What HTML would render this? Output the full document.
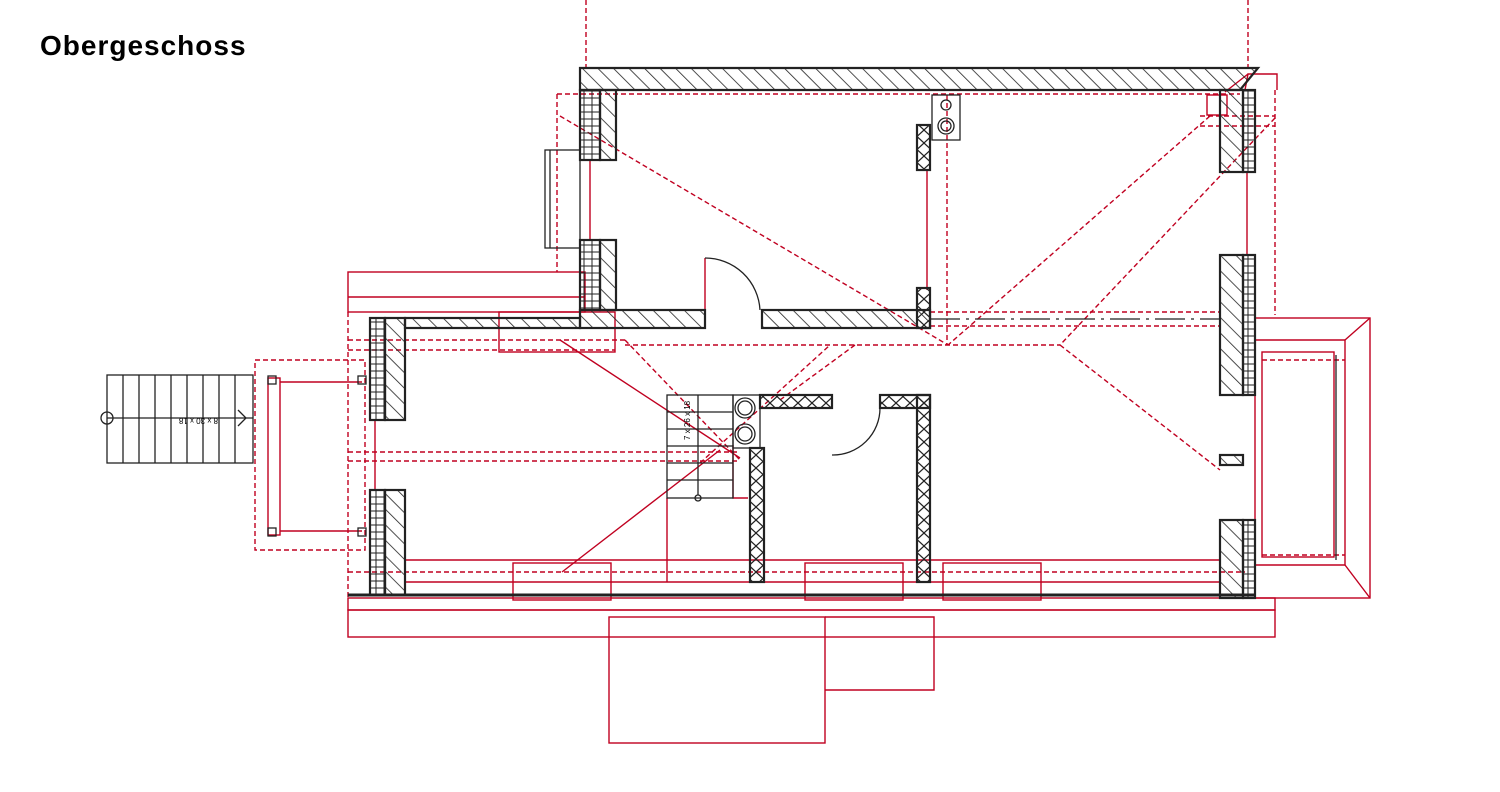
<!DOCTYPE html>
<html><head><meta charset="utf-8"><style>
html,body{margin:0;padding:0;background:#fff;width:1500px;height:792px;overflow:hidden}
svg{position:absolute;left:0;top:0}
.t{position:absolute;left:40px;top:30px;font-family:"Liberation Sans",sans-serif;font-size:28px;font-weight:bold;letter-spacing:1px;color:#000}
</style></head><body>
<div class="t">Obergeschoss</div>
<svg width="1500" height="792" viewBox="0 0 1500 792">
<defs>
<pattern id="h" width="11" height="11" patternUnits="userSpaceOnUse" patternTransform="rotate(-45)">
<line x1="0" y1="0" x2="0" y2="11" stroke="#222" stroke-width="1.6"/></pattern>
<pattern id="b" width="8" height="7" patternUnits="userSpaceOnUse">
<rect width="8" height="7" fill="none" stroke="#222" stroke-width="1"/></pattern>
<pattern id="x" width="14" height="13" patternUnits="userSpaceOnUse">
<path d="M0,0 L14,13 M14,0 L0,13" stroke="#222" stroke-width="1.2"/></pattern>
</defs>
<g fill="none" stroke="#c00020" stroke-width="1.4">
<rect x="348" y="272" width="237" height="40"/>
<line x1="348" y1="297" x2="585" y2="297"/>
<rect x="499" y="312" width="116" height="40"/>
<rect x="348" y="598" width="927" height="12"/>
<rect x="348" y="610" width="927" height="27"/>
<rect x="609" y="617" width="216" height="126"/>
<polyline points="825,617 934,617 934,690 825,690"/>
<rect x="513" y="563" width="98" height="37"/>
<rect x="805" y="563" width="98" height="37"/>
<rect x="943" y="563" width="98" height="37"/>
<line x1="405" y1="560" x2="1220" y2="560"/>
<line x1="405" y1="582" x2="1220" y2="582"/>
<line x1="667" y1="498" x2="667" y2="582"/>
<polyline points="733,445 733,498 748,498"/>
<rect x="268" y="378" width="12" height="157"/>
<line x1="280" y1="382" x2="362" y2="382"/>
<line x1="280" y1="531" x2="362" y2="531"/>
<rect x="1255" y="318" width="115" height="280"/>
<polyline points="1255,340 1345,340 1345,565 1255,565"/>
<line x1="1345" y1="340" x2="1370" y2="318"/>
<line x1="1345" y1="565" x2="1370" y2="598"/>
<rect x="1262" y="352" width="72" height="205"/>
<line x1="562" y1="572" x2="720" y2="450"/>
<line x1="560" y1="340" x2="740" y2="458"/>
<polyline points="1245,90 1248,74 1277,74 1277,90"/>
<line x1="1248" y1="74" x2="1225" y2="92"/>
<rect x="1207" y="95" width="20" height="20"/>
<line x1="590" y1="160" x2="590" y2="240"/>
<line x1="927" y1="170" x2="927" y2="290"/>
<line x1="1247" y1="172" x2="1247" y2="255"/>
<line x1="375" y1="420" x2="375" y2="490"/>
<polyline points="705,310 705,258"/>
</g>
<g fill="none" stroke="#c00020" stroke-width="1.4" stroke-dasharray="5,3">
<line x1="586" y1="0" x2="586" y2="68"/>
<line x1="1248" y1="0" x2="1248" y2="68"/>
<line x1="557" y1="94" x2="1240" y2="94"/>
<polyline points="557,94 557,272"/>
<line x1="560" y1="116" x2="948" y2="345"/>
<line x1="1210" y1="116" x2="948" y2="345"/>
<line x1="1275" y1="118" x2="1060" y2="345"/>
<line x1="1200" y1="126" x2="1275" y2="126"/>
<line x1="1200" y1="116" x2="1275" y2="116"/>
<line x1="1275" y1="90" x2="1275" y2="315"/>
<line x1="947" y1="95" x2="947" y2="345"/>
<line x1="625" y1="345" x2="1060" y2="345"/>
<line x1="930" y1="312" x2="1220" y2="312"/>
<line x1="930" y1="326" x2="1220" y2="326"/>
<line x1="348" y1="340" x2="625" y2="340"/>
<line x1="625" y1="340" x2="740" y2="460"/>
<line x1="855" y1="345" x2="780" y2="400"/>
<line x1="1060" y1="345" x2="1220" y2="470"/>
<line x1="348" y1="350" x2="615" y2="350"/>
<line x1="348" y1="452" x2="740" y2="452"/>
<line x1="348" y1="461" x2="740" y2="461"/>
<line x1="348" y1="572" x2="1245" y2="572"/>
<line x1="348" y1="312" x2="348" y2="598"/>
<rect x="255" y="360" width="110" height="190"/>
<line x1="1262" y1="360" x2="1345" y2="360"/>
<line x1="1262" y1="555" x2="1345" y2="555"/>
<line x1="700" y1="463" x2="830" y2="345"/>
</g>
<g stroke="#222" stroke-width="2.2">
<path d="M580,68 H1258 L1240,90 H580 Z" fill="url(#h)"/>
<rect x="600" y="90" width="16" height="70" fill="url(#h)"/>
<rect x="580" y="90" width="20" height="70" fill="url(#b)"/>
<rect x="600" y="240" width="16" height="70" fill="url(#h)"/>
<rect x="580" y="240" width="20" height="70" fill="url(#b)"/>
<rect x="580" y="310" width="125" height="18" fill="url(#h)"/>
<rect x="405" y="318" width="175" height="10" fill="url(#h)"/>
<rect x="762" y="310" width="168" height="18" fill="url(#h)"/>
<rect x="917" y="125" width="13" height="45" fill="url(#x)"/>
<rect x="917" y="288" width="13" height="40" fill="url(#x)"/>
<rect x="385" y="318" width="20" height="102" fill="url(#h)"/>
<rect x="370" y="318" width="15" height="102" fill="url(#b)"/>
<rect x="385" y="490" width="20" height="105" fill="url(#h)"/>
<rect x="370" y="490" width="15" height="105" fill="url(#b)"/>
<rect x="1220" y="90" width="23" height="82" fill="url(#h)"/>
<rect x="1243" y="90" width="12" height="82" fill="url(#b)"/>
<rect x="1220" y="255" width="23" height="140" fill="url(#h)"/>
<rect x="1243" y="255" width="12" height="140" fill="url(#b)"/>
<rect x="1220" y="455" width="23" height="10" fill="url(#h)"/>
<rect x="1220" y="520" width="23" height="78" fill="url(#h)"/>
<rect x="1243" y="520" width="12" height="78" fill="url(#b)"/>
<line x1="348" y1="595" x2="1255" y2="595" stroke-width="3"/>
<rect x="760" y="395" width="72" height="13" fill="url(#x)"/>
<rect x="880" y="395" width="50" height="13" fill="url(#x)"/>
<rect x="750" y="448" width="14" height="134" fill="url(#x)"/>
<rect x="917" y="395" width="13" height="187" fill="url(#x)"/>
</g>
<g fill="none" stroke="#222" stroke-width="1.3">
<rect x="545" y="150" width="35" height="98"/>
<line x1="550" y1="150" x2="550" y2="248"/>
<path d="M705,258 A55,55 0 0 1 760,310"/>
<path d="M832,455 A47,47 0 0 0 880,408"/>
<rect x="932" y="95" width="28" height="45"/>
<circle cx="946" cy="105" r="5"/><circle cx="946" cy="126" r="8"/><circle cx="946" cy="126" r="5"/>
<rect x="733" y="395" width="27" height="53"/>
<circle cx="745" cy="408" r="10"/><circle cx="745" cy="408" r="7"/>
<circle cx="745" cy="434" r="10"/><circle cx="745" cy="434" r="7"/>
<rect x="667" y="395" width="66" height="103"/>
<line x1="667" y1="412" x2="733" y2="412"/><line x1="667" y1="429" x2="733" y2="429"/>
<line x1="667" y1="446" x2="733" y2="446"/><line x1="667" y1="463" x2="733" y2="463"/>
<line x1="667" y1="480" x2="733" y2="480"/>
<line x1="698" y1="395" x2="698" y2="495"/><circle cx="698" cy="498" r="3"/>
<rect x="107" y="375" width="146" height="88"/>
<line x1="107" y1="418" x2="253" y2="418"/>
<line x1="123" y1="375" x2="123" y2="463"/><line x1="139" y1="375" x2="139" y2="463"/>
<line x1="155" y1="375" x2="155" y2="463"/><line x1="171" y1="375" x2="171" y2="463"/>
<line x1="187" y1="375" x2="187" y2="463"/><line x1="203" y1="375" x2="203" y2="463"/>
<line x1="219" y1="375" x2="219" y2="463"/><line x1="235" y1="375" x2="235" y2="463"/>
<circle cx="107" cy="418" r="6"/>
<polyline points="238,410 246,418 238,426"/>
<rect x="268" y="376" width="8" height="8"/><rect x="268" y="528" width="8" height="8"/>
<rect x="358" y="376" width="8" height="8"/><rect x="358" y="528" width="8" height="8"/>
<line x1="1336" y1="355" x2="1336" y2="560"/>
<line x1="930" y1="319" x2="1220" y2="319" stroke-dasharray="30,6,3,6"/>
</g>
<text x="690" y="440" font-family="Liberation Sans,sans-serif" font-size="8" transform="rotate(-90 690 440)">7 x 26 x 18</text>
<text x="218" y="418" font-family="Liberation Sans,sans-serif" font-size="8" transform="rotate(180 218 418)">8 x 30 x 18</text>
</svg>
</body></html>
